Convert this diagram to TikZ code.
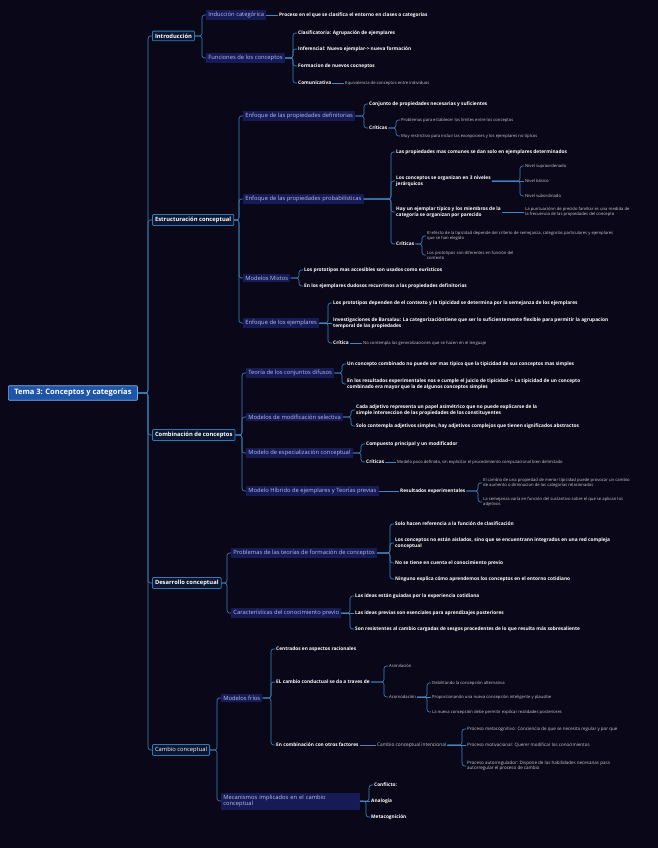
\documentclass[tikz,border=0pt]{standalone}
\usepackage{fontspec}
\setmainfont{Open Sans}
\definecolor{bg}{HTML}{0A0818}
\definecolor{ln}{HTML}{3F86C0}
\definecolor{lvf}{HTML}{161A55}
\definecolor{lvt}{HTML}{B8BFF0}
\definecolor{mbf}{HTML}{0B1630}
\definecolor{mbb}{HTML}{2A7AB8}
\definecolor{rtf}{HTML}{1F55A8}
\definecolor{rtb}{HTML}{7AB0E8}
\definecolor{gr}{HTML}{C8C8D0}
\begin{document}
\begin{tikzpicture}[x=1pt,y=-1pt,
  root/.style={draw=rtb,fill=rtf,text=white,font=\fontsize{7.5}{9}\selectfont\bfseries,inner xsep=6pt,inner ysep=3.5pt,line width=0.6pt,rounded corners=1pt,anchor=west},
  mainb/.style={draw=mbb,fill=mbf,text=white,font=\fontsize{5.8}{7}\selectfont\bfseries,inner sep=2.6pt,line width=0.8pt,rounded corners=1pt,anchor=west},
  lv/.style={fill=lvf,text=lvt,font=\fontsize{5.8}{6.8}\selectfont,inner sep=2.2pt,anchor=west,align=left},
  lf/.style={text=white,font=\fontsize{4.8}{5.8}\selectfont\bfseries,inner sep=1pt,anchor=west,align=left},
  gy/.style={text=gr,font=\fontsize{4.2}{5.1}\selectfont,inner sep=1pt,anchor=west,align=left},
  conn/.style={draw=ln,line width=0.6pt,rounded corners=2.5pt}]
\useasboundingbox[fill=bg] (0,0) rectangle (658,848);
\newcommand\cn[2]{\draw[conn] (#1.east) -- ([xshift=-4pt]#1.east -| #2.west) |- (#2.west);}
\newcommand\cs[2]{\draw[conn] (#1.east) -- (#2.west);}
% root
\node[root] (R) at (8,393) {Tema 3: Conceptos y categorías};
% main
\node[mainb] (I) at (152,36) {Introducción};
\node[mainb] (E) at (152,220) {Estructuración conceptual};
\node[mainb] (C) at (152,435) {Combinación de conceptos};
\node[mainb] (D) at (152,583) {Desarrollo conceptual};
\node[mainb,font=\fontsize{5.8}{7}\selectfont] (K) at (152,750) {Cambio conceptual};
\foreach \m in {I,E,C,D,K} {\cn{R}{\m}}
% Introducción
\node[lv] (I1) at (206,15) {Inducción categórica};
\node[lf] (I1a) at (278,15) {Proceso en el que se clasifica el entorno en clases o categorías};
\node[lv] (I2) at (206,58) {Funciones de los conceptos};
\node[lf] (I2a) at (297,33) {Clasificatoria: Agrupación de ejemplares};
\node[lf] (I2b) at (297,49) {Inferencial: Nuevo ejemplar-> nueva formación};
\node[lf] (I2c) at (297,66) {Formacion de nuevos cocneptos};
\node[lf] (I2d) at (297,83) {Comunicativa};
\node[gy] (I2d1) at (344,83) {Equivalencia de conceptos entre individuos};
\cn{I}{I1}\cn{I}{I2}\cs{I1}{I1a}
\foreach \m in {I2a,I2b,I2c,I2d} {\cn{I2}{\m}}
\cs{I2d}{I2d1}
% Estructuración
\node[lv] (E1) at (243,116) {Enfoque de las propiedades definitorias};
\node[lf] (E1a) at (368,104) {Conjunto de propiedades necesarias y suficientes};
\node[lf] (E1b) at (368,128) {Críticas};
\node[gy] (E1b1) at (400,120) {Problemas para establecer los límites entre los conceptos};
\node[gy] (E1b2) at (400,136) {Muy restrictivo para incluir las excepciones y los ejemplares no típicos};
\cn{E1}{E1a}\cn{E1}{E1b}\cn{E1b}{E1b1}\cn{E1b}{E1b2}
\node[lv] (E2) at (243,199) {Enfoque de las propiedades probabilísticas};
\node[lf] (E2a) at (395,152) {Las propiedades mas comunes se dan solo en ejemplares determinados};
\node[lf] (E2b) at (395,181) {Los conceptos se organizan en 3 niveles\\jerárquicos};
\node[gy] (E2b1) at (524,166) {Nivel supraordenado};
\node[gy] (E2b2) at (524,181) {Nivel básico};
\node[gy] (E2b3) at (524,196) {Nivel subordinado};
\node[lf] (E2c) at (395,212) {Hay un ejemplar típico y los miembros de la\\categoría se organizan por parecido};
\node[gy] (E2c1) at (524,212) {La puntuaciónn de precido familiar es una medida de\\la frecuencia de las propiedades del concepto};
\node[lf] (E2d) at (395,244) {Críticas};
\node[gy] (E2d1) at (426,236) {El efecto de la tipicidad depende del criterio de semejanza, categorías particulares y ejemplares\\que se han elegido};
\node[gy] (E2d2) at (426,255) {Los prototipos son diferentes en función del\\contexto};
\foreach \m in {E2a,E2b,E2c,E2d} {\cn{E2}{\m}}
\cn{E2b}{E2b1}\cs{E2b}{E2b2}\cn{E2b}{E2b3}
\cs{E2c}{E2c1}\cn{E2d}{E2d1}\cn{E2d}{E2d2}
\node[lv] (E3) at (243,278) {Modelos Mixtos};
\node[lf] (E3a) at (303,270) {Los prototipos mas accesibles son usados como eurísticos};
\node[lf] (E3b) at (303,286) {En los ejemplares dudosos recurrimos a las propiedades definitorias};
\cn{E3}{E3a}\cn{E3}{E3b}
\node[lv] (E4) at (243,323) {Enfoque de los ejemplares};
\node[lf] (E4a) at (332,303) {Los prototipos dependen de el contexto  y la tipicidad se determina por la semejanza de los ejemplares};
\node[lf] (E4b) at (332,323) {Investigaciones de Barsalau: La categorizacióntiene que ser lo suficientemente flexible para permitir la agrupacion\\temporal de las propiedades};
\node[lf] (E4c) at (332,343) {Crítica};
\node[gy] (E4c1) at (362,343) {No contempla las generalizaciones que se hacen en el lenguaje};
\cn{E4}{E4a}\cs{E4}{E4b}\cn{E4}{E4c}\cs{E4c}{E4c1}
\foreach \m in {E1,E2,E3,E4} {\cn{E}{\m}}
% Combinación
\node[lv] (C1) at (246,373) {Teoría de los conjuntos difusos};
\node[lf] (C1a) at (346,364) {Un concepto combinado no puede ser mas típico que la tipicidad de sus conceptos mas simples};
\node[lf] (C1b) at (346,384) {En los resultados experimentales nos e cumple el juicio de tipicidad--> La tipicidad de un concepto\\combinado era mayor que la de algunos conceptos simples};
\cn{C1}{C1a}\cn{C1}{C1b}
\node[lv] (C2) at (246,417) {Modelos de modificación selectiva};
\node[lf] (C2a) at (355,410) {Cada adjetivo representa un papel asimétrico que no puede explicarse de la\\simple interseccion de las propiedades de los constituyentes};
\node[lf] (C2b) at (355,426) {Solo contempla adjetivos simples, hay adjetivos complejos que tienen significados abstractos};
\cn{C2}{C2a}\cn{C2}{C2b}
\node[lv] (C3) at (246,453) {Modelo de especialización conceptual};
\node[lf] (C3a) at (365,444) {Compuesto principal y un modificador};
\node[lf] (C3b) at (365,462) {Críticas};
\node[gy] (C3b1) at (396,462) {Modelo poco definido, sin explicitar el procedimiento computacional bien delimitado};
\cn{C3}{C3a}\cn{C3}{C3b}\cs{C3b}{C3b1}
\node[lv] (C4) at (246,491) {Modelo Híbrido de ejemplares y Teorías previas};
\node[lf] (C4a) at (399,491) {Resultados experimentales};
\node[gy] (C4a1) at (482,483) {El cambio de una propiedad de menor tipicidad puede provocar un cambio\\de aumento o diminucion de las categorías relacionadas};
\node[gy] (C4a2) at (482,502) {La semejanza varía en función del sustantivo sobre el que se aplican los\\adjetivos};
\cs{C4}{C4a}\cn{C4a}{C4a1}\cn{C4a}{C4a2}
\foreach \m in {C1,C2,C3,C4} {\cn{C}{\m}}
% Desarrollo
\node[lv] (D1) at (231,553) {Problemas de las teorías de formación de conceptos};
\node[lf] (D1a) at (394,524) {Solo hacen referencia a la función de clasificación};
\node[lf] (D1b) at (394,543) {Los conceptos no están aislados, sino que se encuentrann integrados en una red compleja\\conceptual};
\node[lf] (D1c) at (394,563) {No se tiene en cuenta el conocimiento previo};
\node[lf] (D1d) at (394,579) {Ninguno explica cómo aprendemos los conceptos en el entorno cotidiano};
\foreach \m in {D1a,D1b,D1c,D1d} {\cn{D1}{\m}}
\node[lv] (D2) at (231,613) {Características del conocimiento previo};
\node[lf] (D2a) at (354,596) {Las ideas están guiadas por la experiencia cotidiana};
\node[lf] (D2b) at (354,613) {Las ideas previas son esenciales para aprendizajes posteriores};
\node[lf] (D2c) at (354,629) {Son resistentes al cambio cargadas de sesgos procedentes de lo que resulta más sobresaliente};
\cn{D2}{D2a}\cs{D2}{D2b}\cn{D2}{D2c}
\cn{D}{D1}\cn{D}{D2}
% Cambio
\node[lv] (K1) at (221,698) {Modelos fríos};
\node[lf] (K1a) at (275,649) {Centrados en aspectos racionales};
\node[lf] (K1b) at (275,682) {EL cambio conductual se da a traves de};
\node[gy] (K1b1) at (388,666) {Asimilación};
\node[gy] (K1b2) at (388,697) {Acomodación};
\node[gy] (K1b2a) at (431,683) {Debilitando la concepción alternativa};
\node[gy] (K1b2b) at (431,697) {Proporcionando una nueva concepción inteligente y plausibe};
\node[gy] (K1b2c) at (431,712) {La nueva concepción debe permitir explicar realidades posteriores};
\node[lf] (K1c) at (275,745) {En combinación con otros factores};
\node[gy,font=\fontsize{4.8}{5.8}\selectfont] (K1c1) at (376,745) {Cambio conceptual intencional};
\node[gy,font=\fontsize{4.5}{5.4}\selectfont] (K1c1a) at (466,729) {Proceso metacognitivo: Conciencia de que se necesita regular y por que};
\node[gy,font=\fontsize{4.5}{5.4}\selectfont] (K1c1b) at (466,745) {Proceso motivacional: Querer modificar los conocimientos};
\node[gy,font=\fontsize{4.5}{5.4}\selectfont] (K1c1c) at (466,766) {Proceso autorregulador: Dispone de las habilidades necesarias para\\autorregular el proceso de cambio};
\foreach \m in {K1a,K1b,K1c} {\cn{K1}{\m}}
\cn{K1b}{K1b1}\cn{K1b}{K1b2}
\cn{K1b2}{K1b2a}\cs{K1b2}{K1b2b}\cn{K1b2}{K1b2c}
\cs{K1c}{K1c1}
\cn{K1c1}{K1c1a}\cs{K1c1}{K1c1b}\cn{K1c1}{K1c1c}
\node[lv,text width=134pt] (K2) at (221,801) {Mecanismos implicados en el cambio\\conceptual};
\node[lf] (K2a) at (373,785) {Conflicto:};
\node[lf] (K2b) at (370,801) {Analogía};
\node[lf] (K2c) at (370,817) {Metacognición};
\cn{K2}{K2a}\cs{K2}{K2b}\cn{K2}{K2c}
\cn{K}{K1}\cn{K}{K2}
\end{tikzpicture}
\end{document}
